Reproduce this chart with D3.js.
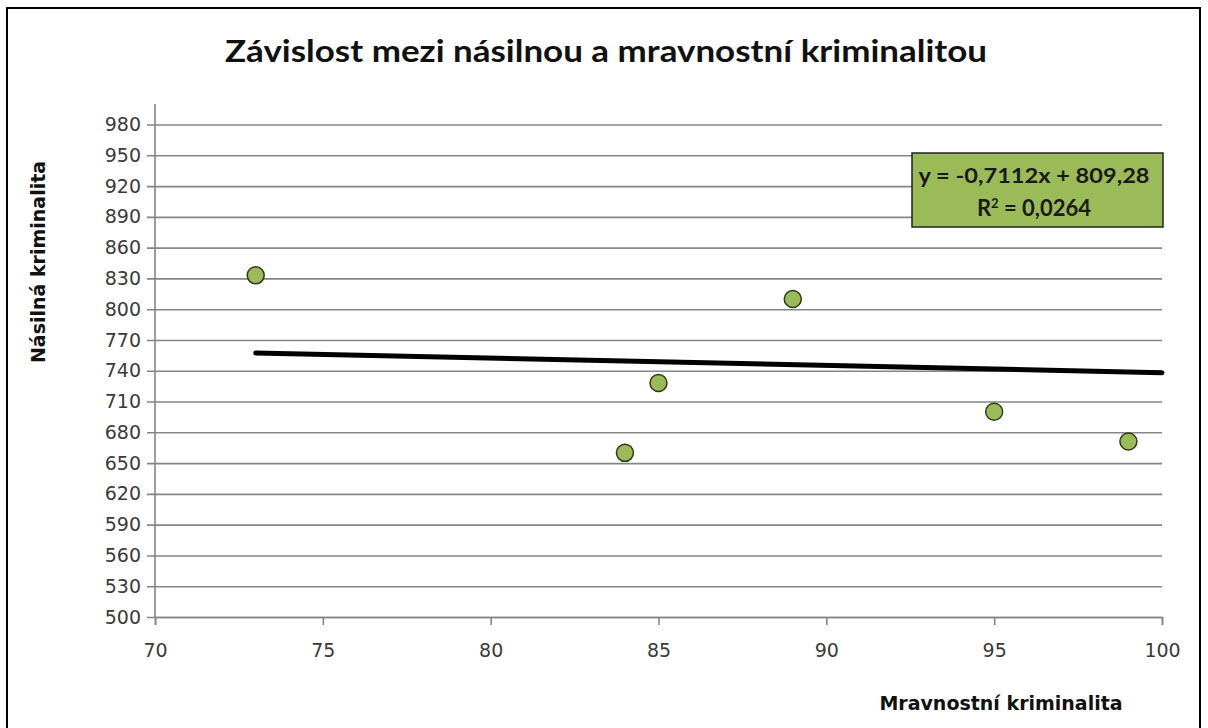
<!DOCTYPE html>
<meta charset="utf-8">

<head>
    <title>Závislost mezi násilnou a mravnostní kriminalitou</title>
    <script src="https://d3js.org/d3.v7.min.js"></script>
    <style>
        body {
            margin: 0;
            background: #fff;
        }

        .tick text {
            font: 19px "DejaVu Sans", sans-serif;
            fill: #3a3a3a;
        }

        .grid line {
            stroke: #858585;
            stroke-width: 1.6;
        }
    </style>
</head>

<body>
    <svg width="1208" height="728"></svg>
    <script>
        // data
        var mravnostni = [73, 84, 85, 89, 95, 99];
        var nasilna = [833, 660, 728, 810, 700, 671];
        var xTicks = [70, 75, 80, 85, 90, 95, 100];
        var yTicks = [500, 530, 560, 590, 620, 650, 680, 710, 740, 770, 800, 830, 860, 890, 920, 950, 980];
        var trendSlope = -0.7112,
            trendIntercept = 809.28,
            rSquared = 0.0264;

        var svg = d3.select("svg"),
            width = +svg.attr("width"),
            height = +svg.attr("height");

        var x = d3.scaleLinear().domain([70, 100]).range([155, 1162]);
        var y = d3.scaleLinear().domain([500, 1000]).range([617, 104]);

        // outer frame
        svg.append("rect")
            .attr("x", 7).attr("y", 8)
            .attr("width", 1193).attr("height", 740)
            .attr("fill", "none")
            .attr("stroke", "#000")
            .attr("stroke-width", 2);

        svg.append("text")
            .attr("x", 606).attr("y", 62)
            .attr("text-anchor", "middle")
            .attr("textLength", 762)
            .attr("lengthAdjust", "spacingAndGlyphs")
            .style("font", "bold 30px Lato, sans-serif")
            .style("fill", "#111")
            .text("Závislost mezi násilnou a mravnostní kriminalitou");

        // horizontal grid + y axis
        var yAxis = svg.append("g")
            .attr("class", "grid")
            .attr("transform", "translate(" + x(70) + ",0)")
            .call(d3.axisLeft(y).tickValues(yTicks)
                .tickSize(-(x(100) - x(70)))
                .tickPadding(14)
                .tickFormat(d3.format("d")));
        yAxis.select(".domain").remove();
        yAxis.selectAll(".tick line").attr("x1", -8);

        svg.append("line")
            .attr("x1", x(70)).attr("x2", x(70))
            .attr("y1", y(1000)).attr("y2", y(500))
            .attr("stroke", "#858585").attr("stroke-width", 1.6);

        var xAxis = svg.append("g")
            .attr("class", "grid")
            .attr("transform", "translate(0," + y(500) + ")")
            .call(d3.axisBottom(x).tickValues(xTicks).tickSize(8).tickPadding(19));
        xAxis.select(".domain").attr("stroke", "#858585").attr("stroke-width", 1.6);

        // axis titles
        svg.append("text")
            .attr("transform", "translate(45,262) rotate(-90)")
            .attr("text-anchor", "middle")
            .style("font", "bold 19px 'DejaVu Sans', sans-serif")
            .style("fill", "#111")
            .text("Násilná kriminalita");

        svg.append("text")
            .attr("x", 1001).attr("y", 710)
            .attr("text-anchor", "middle")
            .style("font", "bold 19px 'DejaVu Sans', sans-serif")
            .style("fill", "#111")
            .text("Mravnostní kriminalita");

        // linear trend line, from first point forward to 100
        var trendX = [d3.min(mravnostni), 100];
        svg.append("line")
            .attr("x1", x(trendX[0])).attr("y1", y(trendSlope * trendX[0] + trendIntercept))
            .attr("x2", x(trendX[1])).attr("y2", y(trendSlope * trendX[1] + trendIntercept))
            .attr("stroke", "#000")
            .attr("stroke-width", 5)
            .attr("stroke-linecap", "round");

        var points = mravnostni.map(function (d, i) { return { x: d, y: nasilna[i] }; });

        svg.selectAll(".dot")
            .data(points)
            .enter().append("circle")
            .attr("class", "dot")
            .attr("cx", function (d) { return x(d.x); })
            .attr("cy", function (d) { return y(d.y); })
            .attr("r", 8.5)
            .attr("fill", "#9bbb59")
            .attr("stroke", "#2e3a1c")
            .attr("stroke-width", 1.5);

        // equation label
        var fmt = function (v) { return String(v).replace(".", ","); };
        var box = svg.append("g");
        box.append("rect")
            .attr("x", 912).attr("y", 153)
            .attr("width", 251).attr("height", 74)
            .attr("fill", "#9bbb59")
            .attr("stroke", "#222")
            .attr("stroke-width", 1.5);

        box.append("text")
            .attr("x", 1034).attr("y", 183)
            .attr("text-anchor", "middle")
            .attr("textLength", 231)
            .attr("lengthAdjust", "spacingAndGlyphs")
            .style("font", "bold 21px Lato, sans-serif")
            .style("fill", "#1a1a1a")
            .text("y = " + fmt(trendSlope) + "x + " + fmt(trendIntercept));

        var r2 = box.append("text")
            .attr("x", 1034).attr("y", 216)
            .attr("text-anchor", "middle")
            .style("font", "bold 22px Lato, sans-serif")
            .style("fill", "#1a1a1a");
        r2.append("tspan").text("R");
        r2.append("tspan").attr("dy", -8).style("font-size", "13px").text("2");
        r2.append("tspan").attr("dy", 8).text(" = " + fmt(rSquared));
    </script>
</body>

</html>
